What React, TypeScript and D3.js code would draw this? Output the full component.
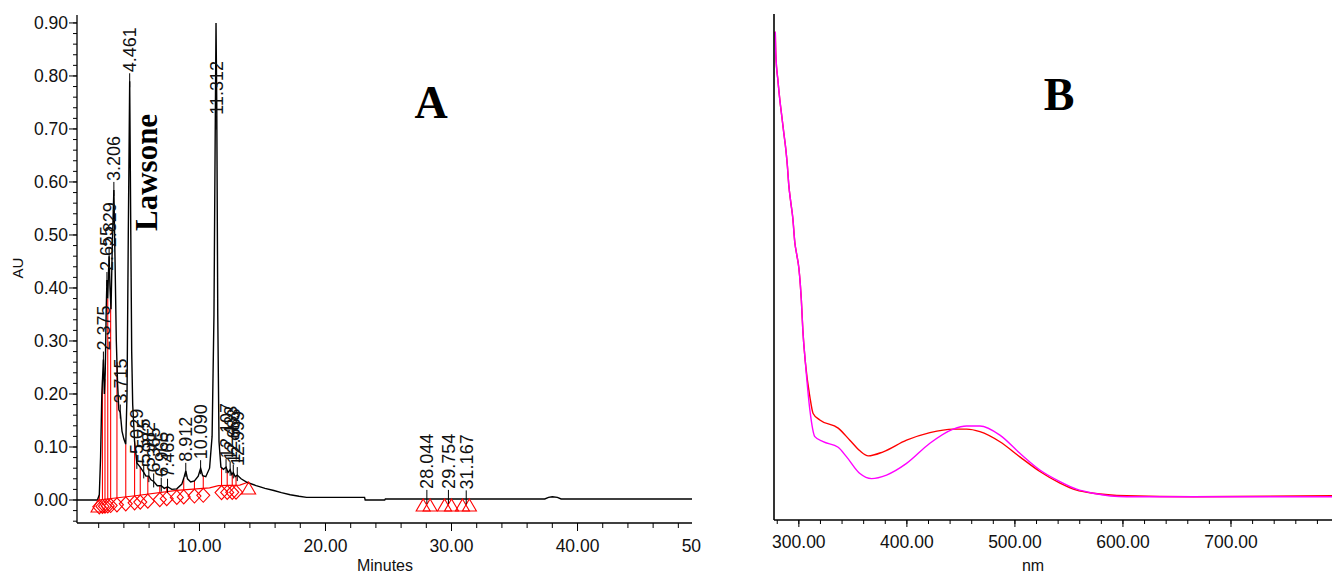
import React from "react";
import * as d3 from "d3";

// ---------------- Panel A : HPLC chromatogram ----------------
const traceTime = [
  0.28, 1.9, 2.05, 2.15, 2.25, 2.375, 2.45, 2.52, 2.6, 2.655, 2.72, 2.78, 2.829, 2.9, 2.98, 3.08, 3.206,
  3.3, 3.4, 3.5, 3.6, 3.715, 3.85, 4.0, 4.15, 4.25, 4.35, 4.461, 4.55, 4.62, 4.7, 4.85, 5.029, 5.3,
  5.575, 5.75, 5.982, 6.15, 6.365, 6.65, 6.965, 7.2, 7.465, 7.8, 8.2, 8.6, 8.8, 8.912, 9.05, 9.3, 9.6,
  9.9, 10.09, 10.25, 10.5, 10.8, 11.0, 11.15, 11.25, 11.312, 11.37, 11.45, 11.55, 11.7, 11.9, 12.107,
  12.27, 12.433, 12.56, 12.683, 12.83, 12.999, 13.3, 13.8, 14.5, 15.2, 15.9, 16.5, 17.2, 17.9, 18.5,
  23.1, 23.15, 24.7, 24.75, 37.4, 37.7, 38.0, 38.4, 38.7, 49.1,
];
const traceAU = [
  0, 0, 0.01, 0.08, 0.2, 0.265, 0.2, 0.24, 0.36, 0.415, 0.38, 0.43, 0.46, 0.4, 0.36, 0.48, 0.585,
  0.45, 0.3, 0.22, 0.17, 0.165, 0.13, 0.115, 0.105, 0.2, 0.5, 0.79, 0.5, 0.28, 0.18, 0.11, 0.07, 0.062,
  0.052, 0.045, 0.045, 0.038, 0.035, 0.027, 0.027, 0.022, 0.025, 0.02, 0.021, 0.03, 0.045, 0.055, 0.04, 0.034, 0.036,
  0.045, 0.06, 0.046, 0.044, 0.06, 0.12, 0.35, 0.7, 0.9, 0.75, 0.35, 0.11, 0.062, 0.058, 0.062,
  0.052, 0.057, 0.048, 0.052, 0.044, 0.047, 0.04, 0.033, 0.027, 0.022, 0.018, 0.014, 0.01, 0.007, 0.005,
  0.005, 0.0, 0.0, 0.002, 0.002, 0.005, 0.006, 0.005, 0.002, 0.002,
];

const peakTimes = [
  2.375, 2.655, 2.829, 3.206, 3.715, 4.461, 5.029, 5.575, 5.982, 6.365, 6.965, 7.465, 8.912, 10.09,
  11.312, 12.107, 12.433, 12.683, 12.999, 28.044, 29.754, 31.167,
];
const peakHeights = [
  0.265, 0.415, 0.46, 0.585, 0.165, 0.79, 0.07, 0.052, 0.045, 0.035, 0.027, 0.025, 0.055, 0.06,
  0.71, 0.062, 0.057, 0.052, 0.047, 0.004, 0.004, 0.003,
];

const baselineTime = [1.95, 4.9, 8.2, 10.8, 11.5, 13.2, 13.9];
const baselineAU = [0.0, 0.008, 0.018, 0.023, 0.027, 0.028, 0.034];
const dropTimes = [
  2.05, 2.3, 2.5, 2.72, 2.95, 3.45, 4.15, 4.85, 5.3, 5.9, 6.85, 7.4, 8.2, 8.75, 9.6, 10.3, 11.75,
  12.2, 12.6, 12.9,
];
const triangleTimes = [1.95, 13.9, 27.75, 28.3, 29.45, 30.0, 30.87, 31.42];

const minuteTicks = [10, 20, 30, 40, 50];
const auTicks = [0, 0.1, 0.2, 0.3, 0.4, 0.5, 0.6, 0.7, 0.8, 0.9];

// ---------------- Panel B : UV-Vis spectra ----------------
const redNm = [
  278.2, 278.7, 280.6, 282.4, 284.3, 286.1, 288.0, 289.4, 290.7, 292.6, 294.4, 296.3, 298.1, 300.0,
  301.4, 302.3, 303.7, 306.0, 310.2, 313.2, 319.4, 336.4, 347.2, 356.5, 364.2, 378.1, 399.7, 421.3,
  442.9, 455.3, 467.6, 486.1, 504.6, 523.1, 541.7, 557.1, 572.5, 603.4, 665.1, 793.5,
];
const redAbs = [
  0.967, 0.921, 0.871, 0.832, 0.798, 0.766, 0.733, 0.701, 0.663, 0.628, 0.598, 0.549, 0.525, 0.499,
  0.465, 0.436, 0.376, 0.313, 0.244, 0.211, 0.198, 0.182, 0.158, 0.137, 0.127, 0.135, 0.158, 0.173,
  0.18, 0.18, 0.175, 0.155, 0.125, 0.096, 0.073, 0.059, 0.053, 0.048, 0.046, 0.048,
];
const magentaNm = [
  278.2, 278.7, 280.6, 282.4, 284.3, 286.1, 288.0, 289.4, 290.7, 292.6, 294.4, 296.3, 298.1, 300.0,
  301.4, 302.3, 303.7, 306.0, 310.2, 314.8, 322.5, 336.4, 344.2, 356.5, 367.3, 381.2, 399.7, 421.3,
  442.9, 455.3, 467.6, 486.1, 504.6, 523.1, 541.7, 557.1, 572.5, 603.4, 793.5,
];
const magentaAbs = [
  0.967, 0.921, 0.871, 0.832, 0.798, 0.766, 0.733, 0.701, 0.663, 0.628, 0.598, 0.549, 0.525, 0.499,
  0.465, 0.436, 0.376, 0.313, 0.218, 0.165, 0.155, 0.144, 0.125, 0.092, 0.082, 0.089, 0.112, 0.152,
  0.18, 0.186, 0.186, 0.168, 0.132, 0.099, 0.076, 0.061, 0.053, 0.046, 0.046,
];
const nmTicks = [300, 400, 500, 600, 700];

const SANS = "'Liberation Sans', Arial, sans-serif";
const SERIF = "'Liberation Serif', 'Times New Roman', serif";

function interp(xs: number[], ys: number[], x: number) {
  if (x <= xs[0]) return ys[0];
  if (x >= xs[xs.length - 1]) return ys[ys.length - 1];
  const i = d3.bisectRight(xs, x);
  const x0 = xs[i - 1], x1 = xs[i];
  return ys[i - 1] + ((ys[i] - ys[i - 1]) * (x - x0)) / (x1 - x0);
}

export default function App() {
  // Panel A scales
  const xA = d3.scaleLinear().domain([0.28, 49.1]).range([77, 692.2]);
  const yA = d3.scaleLinear().domain([-0.0434, 0.915]).range([523, 15]);
  const lineA = d3
    .line<number>()
    .x((_, i) => xA(traceTime[i]))
    .y((_, i) => yA(traceAU[i]));
  const baseLine = d3
    .line<number>()
    .x((_, i) => xA(baselineTime[i]))
    .y((_, i) => yA(baselineAU[i]));
  const baseAt = (t: number) =>
    t >= baselineTime[0] && t <= baselineTime[baselineTime.length - 1]
      ? interp(baselineTime, baselineAU, t)
      : interp(traceTime, traceAU, t);

  const minorX = d3.range(2, 51, 2).filter((t) => xA(t) >= 77 && xA(t) <= 692);
  const minorY = d3.range(-4, 46, 1).map((k) => k * 0.02).filter((v) => yA(v) <= 523 && yA(v) >= 15);

  // Panel B scales
  const xB = d3.scaleLinear().domain([277, 793.5]).range([774, 1332]);
  const yB = d3.scaleLinear().domain([0, 1]).range([520, 15]);
  const redLine = d3
    .line<number>()
    .x((_, i) => xB(redNm[i]))
    .y((_, i) => yB(redAbs[i]))
    .curve(d3.curveMonotoneX);
  const magLine = d3
    .line<number>()
    .x((_, i) => xB(magentaNm[i]))
    .y((_, i) => yB(magentaAbs[i]))
    .curve(d3.curveMonotoneX);
  const minorNm = d3.range(280, 800, 20).filter((v) => xB(v) >= 774 && xB(v) <= 1332);

  const diamond = (cx: number, top: number) =>
    `M${cx},${top} L${cx + 6.5},${top + 7} L${cx},${top + 14} L${cx - 6.5},${top + 7} Z`;
  const triangle = (cx: number, top: number) =>
    `M${cx},${top} L${cx + 7},${top + 12} L${cx - 7},${top + 12} Z`;

  return (
    <svg
      width={1332}
      height={576}
      style={{ position: "absolute", left: 0, top: 0, background: "#fff" }}
    >
      <defs>
        <clipPath id="clipA">
          <rect x={77} y={0} width={615} height={523} />
        </clipPath>
        <clipPath id="clipALabels">
          <rect x={0} y={523} width={701} height={53} />
        </clipPath>
      </defs>

      {/* ---------- Panel A ---------- */}
      <g clipPath="url(#clipA)">
        <path d={baseLine(baselineTime) || ""} fill="none" stroke="#ff0000" strokeWidth={1.2} />
        {dropTimes.map((t, i) => (
          <line
            key={"d" + i}
            x1={xA(t)}
            x2={xA(t)}
            y1={yA(baseAt(t))}
            y2={yA(interp(traceTime, traceAU, t))}
            stroke="#ff0000"
            strokeWidth={1.1}
          />
        ))}
        <path d={lineA(traceTime) || ""} fill="none" stroke="#000" strokeWidth={1.4} />
        {dropTimes.map((t, i) => (
          <path
            key={"m" + i}
            d={diamond(xA(t), yA(baseAt(t)))}
            fill="none"
            stroke="#ff0000"
            strokeWidth={1.1}
          />
        ))}
        {triangleTimes.map((t, i) => (
          <path
            key={"t" + i}
            d={triangle(xA(t), yA(baseAt(t)))}
            fill="none"
            stroke="#ff0000"
            strokeWidth={1.1}
          />
        ))}
        {peakTimes.map((t, i) => (
          <g key={"p" + i}>
            <line
              x1={xA(t)}
              x2={xA(t)}
              y1={yA(peakHeights[i]) + 6}
              y2={yA(peakHeights[i]) - 8}
              stroke="#000"
              strokeWidth={1}
            />
            <text
              transform={`translate(${xA(t)},${yA(peakHeights[i]) - 9}) rotate(-90)`}
              dy="0.36em"
              fontFamily={SANS}
              fontSize={18}
              fill="#111"
            >
              {t.toFixed(3)}
            </text>
          </g>
        ))}
      </g>

      {/* axes A */}
      <line x1={77} x2={77} y1={15} y2={523} stroke="#000" strokeWidth={1.3} />
      <line x1={77} x2={692} y1={523} y2={523} stroke="#000" strokeWidth={1.3} />
      {minorY.map((v, i) => (
        <line key={"my" + i} x1={73} x2={77} y1={yA(v)} y2={yA(v)} stroke="#000" strokeWidth={1} />
      ))}
      {auTicks.map((v) => (
        <g key={"ya" + v}>
          <line x1={69} x2={77} y1={yA(v)} y2={yA(v)} stroke="#000" strokeWidth={1} />
          <text
            x={68}
            y={yA(v)}
            dy="0.36em"
            textAnchor="end"
            fontFamily={SANS}
            fontSize={17.5}
            fill="#111"
          >
            {v.toFixed(2)}
          </text>
        </g>
      ))}
      {minorX.map((t) => (
        <line key={"mx" + t} x1={xA(t)} x2={xA(t)} y1={523} y2={528} stroke="#000" strokeWidth={1} />
      ))}
      <g clipPath="url(#clipALabels)">
        {minuteTicks.map((t) => (
          <g key={"xa" + t}>
            {xA(t) <= 692 && (
              <line x1={xA(t)} x2={xA(t)} y1={523} y2={531} stroke="#000" strokeWidth={1} />
            )}
            <text
              x={xA(t)}
              y={552}
              textAnchor="middle"
              fontFamily={SANS}
              fontSize={17.5}
              fill="#111"
            >
              {t.toFixed(2)}
            </text>
          </g>
        ))}
      </g>
      <text x={385} y={571} textAnchor="middle" fontFamily={SANS} fontSize={16} fill="#111">
        Minutes
      </text>
      <text
        transform="translate(23,268) rotate(-90)"
        textAnchor="middle"
        fontFamily={SANS}
        fontSize={15}
        fill="#111"
      >
        AU
      </text>
      <text x={431} y={118} textAnchor="middle" fontFamily={SERIF} fontWeight="bold" fontSize={46}>
        A
      </text>
      <text
        transform="translate(157,231) rotate(-90)"
        fontFamily={SERIF}
        fontWeight="bold"
        fontSize={31}
      >
        Lawsone
      </text>

      {/* ---------- Panel B ---------- */}
      <path d={redLine(redNm) || ""} fill="none" stroke="#ff0000" strokeWidth={1.4} />
      <path d={magLine(magentaNm) || ""} fill="none" stroke="#ff00ff" strokeWidth={1.4} />
      <line x1={774} x2={774} y1={14} y2={520} stroke="#000" strokeWidth={1.6} />
      <line x1={774} x2={1332} y1={520} y2={520} stroke="#000" strokeWidth={1.3} />
      {minorNm.map((v) => (
        <line key={"mn" + v} x1={xB(v)} x2={xB(v)} y1={520} y2={524} stroke="#000" strokeWidth={1} />
      ))}
      {nmTicks.map((v) => (
        <g key={"nb" + v}>
          <line x1={xB(v)} x2={xB(v)} y1={520} y2={527} stroke="#000" strokeWidth={1} />
          <text
            x={xB(v)}
            y={548}
            textAnchor="middle"
            fontFamily={SANS}
            fontSize={17.5}
            fill="#111"
          >
            {v.toFixed(2)}
          </text>
        </g>
      ))}
      <text x={1033} y={571} textAnchor="middle" fontFamily={SANS} fontSize={16} fill="#111">
        nm
      </text>
      <text x={1059} y={110} textAnchor="middle" fontFamily={SERIF} fontWeight="bold" fontSize={46}>
        B
      </text>
    </svg>
  );
}
